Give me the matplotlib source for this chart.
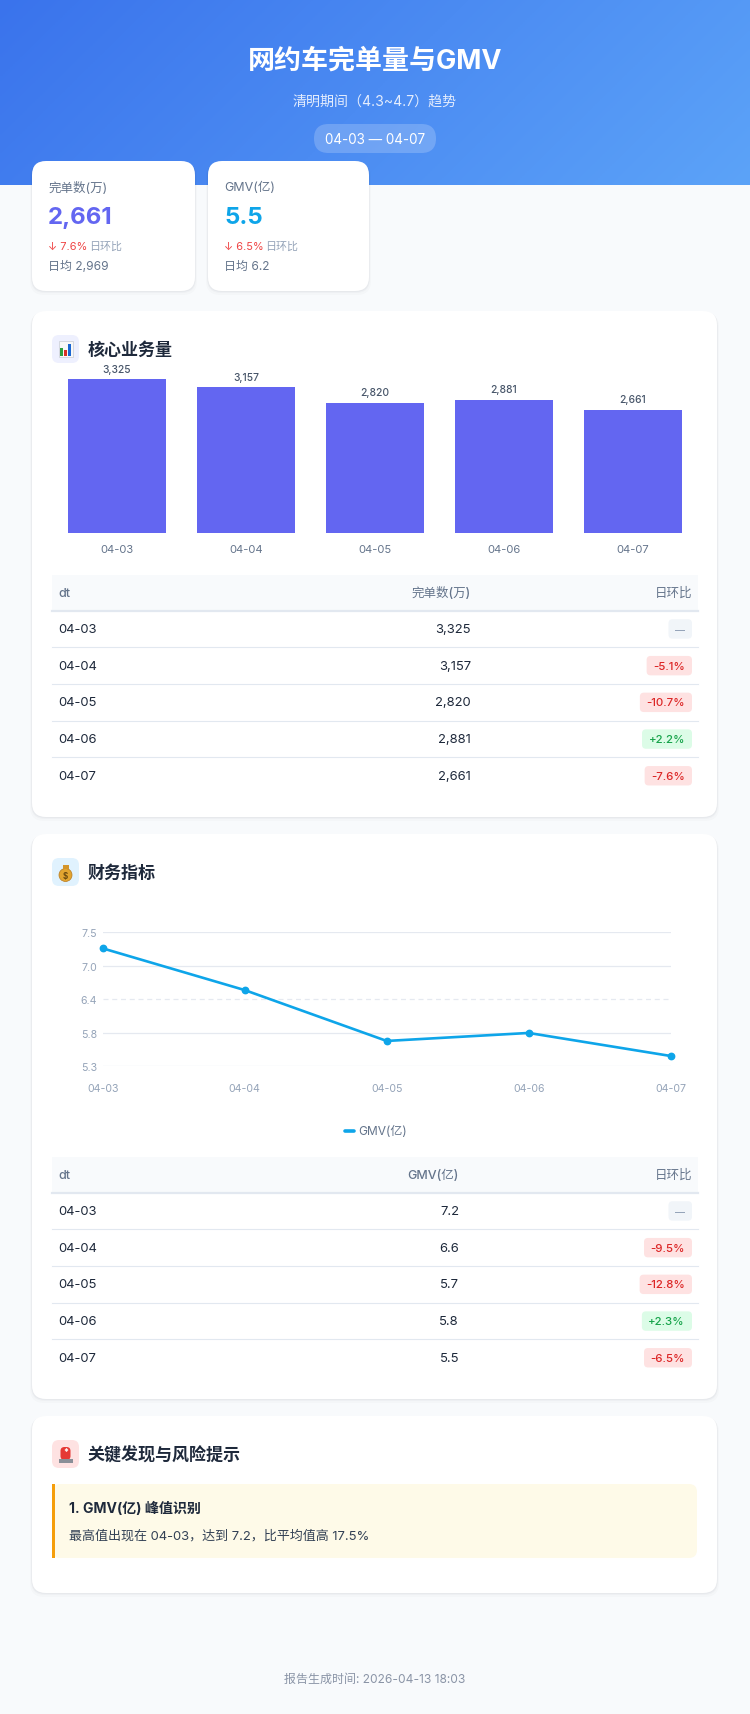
import numpy as np
import matplotlib.pyplot as plt
from matplotlib.patches import FancyBboxPatch, Rectangle, Circle

plt.rcParams['font.family'] = ['Inter', 'Noto Sans CJK SC', 'DejaVu Sans']

# data
days = ["04-03", "04-04", "04-05", "04-06", "04-07"]
orders = [3325, 3157, 2820, 2881, 2661]            # 完单数(万)
orders_dod = [None, -5.1, -10.7, 2.2, -7.6]         # 日环比 %
gmv = [7.24, 6.552, 5.713, 5.845, 5.465]            # GMV(亿)
gmv_dod = [None, -9.5, -12.8, 2.3, -6.5]
gmv_ylim = (5.295, 7.505)
gmv_ticklabels = ["5.3", "5.8", "6.4", "7.0", "7.5"]

W, H = 750, 1715
fig = plt.figure(figsize=(W / 100, H / 100), dpi=100)
fig.patch.set_facecolor('#F8FAFC')
bg = fig.add_axes([0, 0, 1, 1])
bg.axis('off')


def ax_at(x0, y0, x1, y1):
    return fig.add_axes([x0 / W, 1 - y1 / H, (x1 - x0) / W, (y1 - y0) / H])


def txt(x, y, s, size, color, ha='left', weight='normal', **kw):
    return bg.text(x, y, s, fontsize=size * 0.72, color=color, ha=ha, va='center',
                   fontweight=weight, **kw)


def box(x0, y0, x1, y1, r, fc, z=1, **kw):
    p = FancyBboxPatch((x0, y0), x1 - x0, y1 - y0, boxstyle=f"round,pad=0,rounding_size={r}",
                       fc=fc, ec='none', zorder=z, **kw)
    bg.add_patch(p)
    return p


def card(x0, y0, x1, y1, r=14):
    for k, a in [(4, 0.015), (2, 0.025), (1, 0.03)]:
        box(x0 - k / 2, y0 + k / 2, x1 + k / 2, y1 + k, r, '#0F172A', z=1, alpha=a)
    box(x0, y0, x1, y1, r, 'white', z=2)


# header gradient
gx = np.linspace(0, 1, 300)
gy = np.linspace(0, 1, 80)
t = gx[None, :] * 0.8 + gy[:, None] * 0.2
c1 = np.array([0x3A, 0x73, 0xEC]) / 255
c2 = np.array([0x5C, 0xA3, 0xF8]) / 255
img = c1 + (c2 - c1) * t[..., None]
bg.imshow(img, extent=(0, W, 186, 0), aspect='auto', zorder=0)
bg.set_xlim(0, W)
bg.set_ylim(H, 0)

txt(375, 62, "网约车完单量与GMV", 27, 'white', 'center', 'bold', zorder=3)
txt(375, 102, "清明期间（4.3~4.7）趋势", 14, '#E3ECFD', 'center', zorder=3)
box(314, 125, 436, 154, 14.5, 'white', z=2, alpha=0.2)
txt(375, 139.5, "04-03 — 04-07", 13.5, 'white', 'center', zorder=3)

# KPI cards
orders_avg = np.mean(orders)
gmv_avg = np.mean(gmv)
kpis = [
    (32, 195, "完单数(万)", f"{orders[-1]:,}", '#6366F1', orders_dod[-1], f"日均 {orders_avg:,.0f}"),
    (208, 369, "GMV(亿)", f"{gmv[-1]:.1f}", '#0EA5E9', gmv_dod[-1], f"日均 {gmv_avg:.1f}"),
]
for x0, x1, label, val, col, dod, avg in kpis:
    card(x0, 162, x1, 292)
    tx = x0 + 16
    txt(tx, 188, label, 12.5, '#64748B', zorder=3)
    txt(tx, 218, val, 24, col, weight='bold', zorder=3)
    txt(tx, 247, f"↓ {abs(dod):.1f}%", 11, '#EF4444', zorder=3)
    txt(tx + 41, 247, "日环比", 11, '#94A3B8', zorder=3)
    txt(tx, 267, avg, 12, '#64748B', zorder=3)


def section_title(y0, title, icon_bg):
    box(52, y0, 79, y0 + 28, 7, icon_bg, z=3)
    txt(88, y0 + 14, title, 17, '#1E293B', weight='bold', zorder=4)


renderer = fig.canvas.get_renderer()


def badge(yc, dod):
    if dod is None:
        s, fg, bgc = "—", '#94A3B8', '#F1F5F9'
    elif dod < 0:
        s, fg, bgc = f"{dod:.1f}%", '#DC2626', '#FEE2E2'
    else:
        s, fg, bgc = f"+{dod:.1f}%", '#16A34A', '#DCFCE7'
    size = 11.5 if dod is not None else 10
    tt = txt(685, yc, s, size, fg, 'right', weight='medium', zorder=5)
    bb = tt.get_window_extent(renderer)
    box(bb.x0 - 6.5, yc - 9.7, 692, yc + 9.7, 4, bgc, z=4)


def table(y_top, col2, col2_right, vals, fmt, dods):
    hb = y_top + 35.6
    bg.add_patch(Rectangle((52, y_top), 646, 35.6, fc='#F8FAFC', ec='none', zorder=3))
    bg.plot([52, 698], [hb + 0.8, hb + 0.8], color='#E2E8F0', lw=1.6, zorder=4)
    txt(58, y_top + 18, "dt", 12.5, '#64748B', weight='medium', zorder=4)
    txt(col2_right, y_top + 18, col2, 12.5, '#64748B', 'right', weight='medium', zorder=4)
    txt(692, y_top + 18, "日环比", 12.5, '#64748B', 'right', weight='medium', zorder=4)
    for i, (d, v, dd) in enumerate(zip(days, vals, dods)):
        yc = hb + 18.35 + 36.7 * i
        txt(58, yc, d, 13, '#1E293B', zorder=4)
        txt(col2_right, yc, fmt(v), 13, '#1E293B', 'right', zorder=4)
        badge(yc, dd)
        if i < len(days) - 1:
            yl = hb + 36.7 * (i + 1)
            bg.plot([52, 698], [yl, yl], color='#E2E8F0', lw=0.8, zorder=4)


# section 1: bars
card(32, 312, 717, 818)
section_title(336, "核心业务量", '#EEF0FE')
bg.add_patch(Rectangle((58.5, 342), 14, 16, fc='#F8F8F8', ec='#C9CDD6', lw=0.5, zorder=4))
for bx, bh, bc in [(60.2, 8, '#2E9E3E'), (64.2, 6, '#D93025'), (68.2, 12, '#1A66D2')]:
    bg.add_patch(Rectangle((bx, 357 - bh), 3, bh, fc=bc, ec='none', zorder=5))

ax1 = ax_at(52, 360, 698, 534)
x = np.arange(len(days))
bars = ax1.bar(x, orders, width=0.764, color='#6366F1', zorder=2)
ax1.set_xlim(-0.504, 4.504)
ax1.set_ylim(0, max(orders) * 1.132)
for b, v in zip(bars, orders):
    ax1.annotate(f"{v:,}", (b.get_x() + b.get_width() / 2, v), xytext=(0, 4),
                 textcoords='offset points', ha='center', va='bottom',
                 fontsize=7.4, color='#475569', fontweight='medium')
ax1.set_xticks(x, days)
ax1.tick_params(axis='x', length=0, pad=8, labelsize=8, labelcolor='#64748B')
ax1.set_yticks([])
for s in ax1.spines.values():
    s.set_visible(False)
ax1.patch.set_alpha(0)

table(576, "完单数(万)", 471, orders, lambda v: f"{v:,}", orders_dod)

# section 2: line
card(32, 835, 717, 1400)
section_title(859, "财务指标", '#E0F2FE')
bg.add_patch(Circle((65.5, 876), 6.5, fc='#E3A530', ec='#B7791F', lw=0.5, zorder=4))
bg.add_patch(Rectangle((62.5, 865.5), 6, 4, fc='#D4952A', ec='none', zorder=4))
txt(65.5, 876.5, "$", 8, '#6B4A10', 'center', 'bold', zorder=5)

ax2 = ax_at(102.7, 933.3, 670.7, 1067.3)
ax2.set_xlim(0, len(days) - 1)
ax2.set_ylim(*gmv_ylim)
yt = np.linspace(gmv_ylim[0], gmv_ylim[1], 5)
for k, yv in enumerate(yt):
    ax2.axhline(yv, color='#E5E9F0', lw=0.9, ls='--' if k == 2 else '-',
                dashes=(4, 3) if k == 2 else (None, None), zorder=1)
ax2.plot(np.arange(len(days)), gmv, color='#0EA5E9', lw=1.9, marker='o', ms=4.6,
         zorder=3, clip_on=False)
ax2.set_yticks(yt, gmv_ticklabels)
ax2.set_xticks(np.arange(len(days)), days)
ax2.tick_params(axis='y', length=0, pad=4, labelsize=7.6, labelcolor='#94A3B8')
ax2.tick_params(axis='x', length=0, pad=12, labelsize=7.6, labelcolor='#94A3B8')
for s in ax2.spines.values():
    s.set_visible(False)
ax2.patch.set_alpha(0)

bg.plot([345, 353.5], [1132, 1132], color='#0EA5E9', lw=2.6, solid_capstyle='round', zorder=4)
txt(358, 1132, "GMV(亿)", 12, '#64748B', zorder=4)

table(1158, "GMV(亿)", 459, gmv, lambda v: f"{v:.1f}", gmv_dod)

# section 3: findings
card(32, 1417, 717, 1594)
section_title(1441, "关键发现与风险提示", '#FEE2E2')
box(60.5, 1448, 70.5, 1461, 4, '#E53935', z=4)
bg.add_patch(Rectangle((58.5, 1460), 14, 3.5, fc='#8A8F98', ec='none', zorder=4))
txt(65.5, 1453, "*", 9, 'white', 'center', 'bold', zorder=5)

peak_i = int(np.argmax(gmv))
peak_pct = (gmv[peak_i] / gmv_avg - 1) * 100
box(52, 1485, 697, 1559, 8, '#FEFAE8', z=3)
bg.add_patch(Rectangle((52, 1485), 3, 74, fc='#F59E0B', ec='none', zorder=4))
txt(69, 1509, "1. GMV(亿) 峰值识别", 14, '#1E293B', weight='bold', zorder=5)
txt(69, 1536, f"最高值出现在 {days[peak_i]}，达到 {gmv[peak_i]:.1f}，比平均值高 {peak_pct:.1f}%",
    13, '#334155', zorder=5)

txt(375, 1680, "报告生成时间: 2026-04-13 18:03", 12, '#8A94A6', 'center', zorder=3)

fig.savefig('out.png', dpi=100, facecolor=fig.get_facecolor())
